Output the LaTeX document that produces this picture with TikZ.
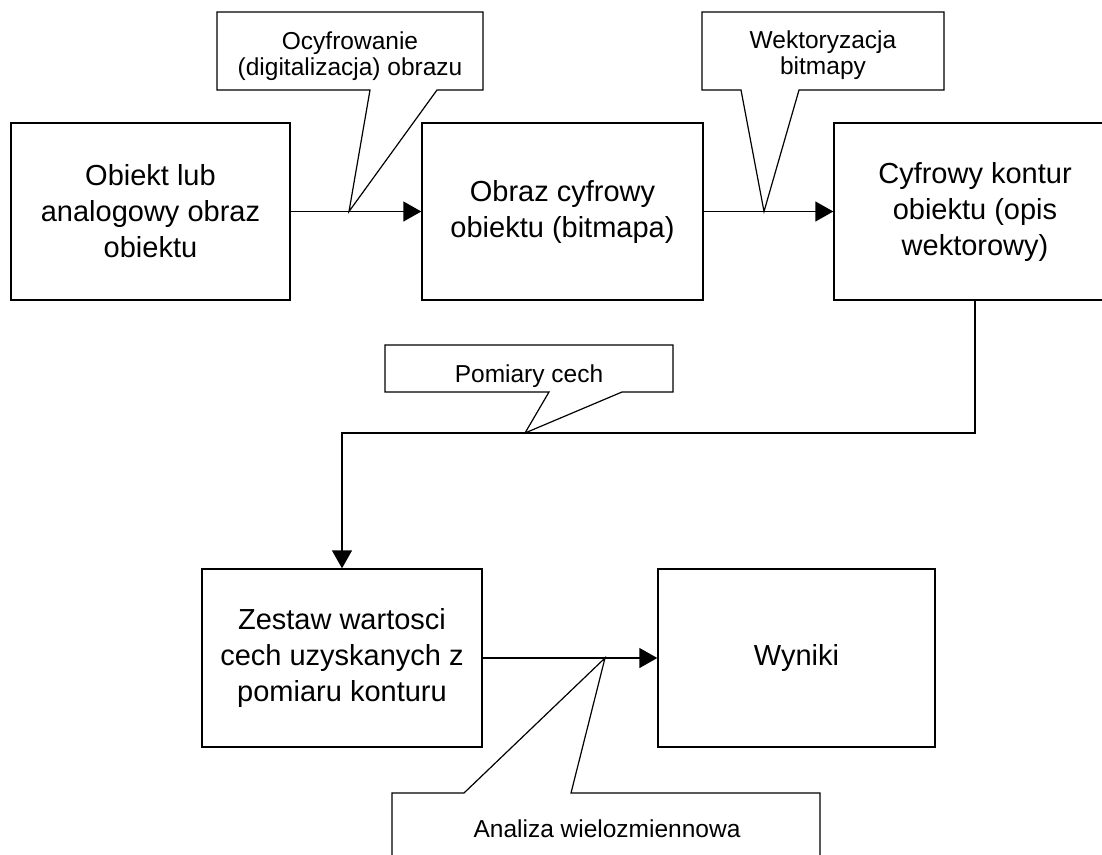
\documentclass[tikz,border=0pt]{standalone}
\usepackage{fontspec}
\setmainfont{Liberation Sans}
\usetikzlibrary{positioning,arrows.meta}

\tikzset{
  blok/.style={draw,line width=1.4pt,minimum height=177pt,align=center,inner sep=0pt,
    font=\fontsize{29}{36}\selectfont},
  opis/.style={align=center,inner sep=0pt,font=\fontsize{24.5}{26.5}\selectfont},
  dymek/.style={draw,line width=1.2pt,fill=white,line join=miter},
  strz/.style={line width=1.4pt,-{Triangle[length=18pt,width=20pt]}},
}

\begin{document}
\begin{tikzpicture}[x=1pt,y=-1pt]
\clip (0,0) rectangle (1102,854);
% bloki
\node[blok,minimum width=279pt] (obiekt) at (150.5,211.5) {Obiekt lub\\analogowy obraz\\obiektu};
\node[blok,minimum width=281pt] (bitmapa) at (562.5,211.5) {Obraz cyfrowy\\obiektu (bitmapa)};
\node[blok,minimum width=282pt] (kontur) at (975,211.5) {Cyfrowy kontur\\obiektu (opis\\wektorowy)};
\node[blok,minimum width=280pt,minimum height=178pt] (zestaw) at (342,658) {Zestaw wartosci\\cech uzyskanych z\\pomiaru konturu};
\node[blok,minimum width=277pt,minimum height=178pt] (wyniki) at (796.5,658) {Wyniki};
% polaczenia
\draw[strz] (obiekt) -- (bitmapa);
\draw[strz] (bitmapa) -- (kontur);
\coordinate (zakret) at (975,433);
\draw[strz] (kontur.south) -- (zakret) -| (zestaw.north);
\draw[strz] (zestaw) -- (wyniki);
% dymki
\coordinate (t1) at (349,211.5);
\coordinate (t2) at (764,211.5);
\coordinate (t3) at (525,433);
\coordinate (t4) at (605,658);
\draw[dymek] (217,12) -- (483,12) -- (483,90) -- (437,90) -- (t1) -- (370,90) -- (217,90) -- cycle;
\node[opis] (ocyfr) at (350,56) {Ocyfrowanie\\(digitalizacja) obrazu};
\draw[dymek] (702,12) -- (944,12) -- (944,90) -- (799,90) -- (t2) -- (741,90) -- (702,90) -- cycle;
\node[opis] (wektor) at (823,55) {Wektoryzacja\\bitmapy};
\draw[dymek] (385,345) -- (673,345) -- (673,392) -- (622,392) -- (t3) -- (549,392) -- (385,392) -- cycle;
\node[opis,anchor=base] (pomiar) at (529,382) {Pomiary cech};
\draw[dymek] (392,793) -- (464,793) -- (t4) -- (571,793) -- (820,793) -- (820,880) -- (392,880) -- cycle;
\node[opis,anchor=base] (analiza) at (607,837) {Analiza wielozmiennowa};
\end{tikzpicture}
\end{document}
